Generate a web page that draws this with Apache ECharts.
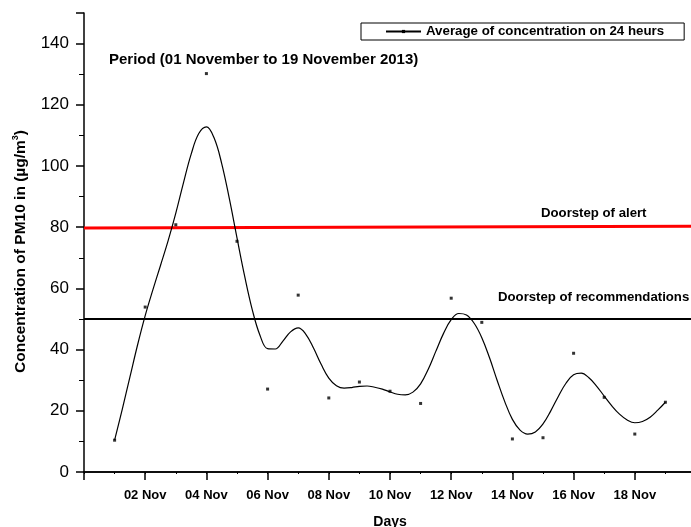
<!DOCTYPE html>
<html>
<head>
<meta charset="utf-8">
<script src="https://cdn.jsdelivr.net/npm/echarts@6/dist/echarts.min.js"></script>
<style>
  html, body { margin: 0; padding: 0; background: #fff; }
  #chart { width: 691px; height: 527px; }
</style>
</head>
<body>
<div id="chart"></div>
<script>
// Daily mean PM10 concentration, 1–19 November 2013 (µg/m³)
const days = [1, 2, 3, 4, 5, 6, 7, 8, 9, 10, 11, 12, 13, 14, 15, 16, 17, 18, 19];
const pm10 = [10.4, 53.9, 80.8, 130.2, 75.4, 27.1, 57.8, 24.2, 29.4, 26.4, 22.4, 56.8, 48.9, 10.8, 11.2, 38.8, 24.4, 12.4, 22.8];

// Smoothed trend curve, sampled every quarter day
const curveDays = [1, 1.25, 1.5, 1.75, 2, 2.25, 2.5, 2.75, 3, 3.25, 3.5, 3.75, 4, 4.25, 4.5, 4.75, 5, 5.25, 5.5, 5.75, 6, 6.25, 6.5, 6.75, 7, 7.25, 7.5, 7.75, 8, 8.25, 8.5, 8.75, 9, 9.25, 9.5, 9.75, 10, 10.25, 10.5, 10.75, 11, 11.25, 11.5, 11.75, 12, 12.25, 12.5, 12.75, 13, 13.25, 13.5, 13.75, 14, 14.25, 14.5, 14.75, 15, 15.25, 15.5, 15.75, 16, 16.25, 16.5, 16.75, 17, 17.25, 17.5, 17.75, 18, 18.25, 18.5, 18.75, 19];
const curveVals = [10.4, 20.5, 31.0, 41.5, 51.1, 59.5, 67.5, 75.6, 84.6, 94.5, 103.8, 110.6, 112.8, 109.2, 100.8, 89.3, 76.5, 64.0, 53.0, 44.7, 40.3, 40.2, 42.8, 45.8, 47.1, 45.0, 40.5, 35.2, 30.7, 28.2, 27.4, 27.6, 28.0, 28.1, 27.7, 27.1, 26.2, 25.4, 25.2, 26.1, 28.8, 33.6, 39.5, 45.3, 49.8, 51.8, 51.3, 48.6, 43.9, 37.4, 30.0, 23.0, 17.2, 13.7, 12.4, 13.1, 15.7, 19.9, 24.7, 29.0, 31.8, 32.3, 30.8, 28.1, 24.8, 21.6, 18.9, 17.0, 16.1, 16.5, 17.9, 20.2, 22.8];

// Threshold levels: [value at start, value at end]
const alertLevel = [79.7, 80.3];
const recommendationLevel = [50, 50];

// Axis tick labels
const xTickLabels = { 2: '02 Nov', 4: '04 Nov', 6: '06 Nov', 8: '08 Nov', 10: '10 Nov', 12: '12 Nov', 14: '14 Nov', 16: '16 Nov', 18: '18 Nov' };
const yTicks = [0, 20, 40, 60, 80, 100, 120, 140];

const FONT = '"Liberation Sans", Arial, sans-serif';
const chart = echarts.init(document.getElementById('chart'), null, { renderer: 'canvas' });

const xRange = [0, 20];

chart.setOption({
  animation: false,
  backgroundColor: '#fff',
  textStyle: { fontFamily: FONT, color: '#000' },
  grid: { left: 84, top: 13, right: -5, bottom: 55, containLabel: false, outerBoundsMode: 'none' },
  legend: {
    data: ['Average of concentration on 24 heurs'],
    left: 361, top: 23,
    padding: [2, 20, 2, 24],
    borderColor: '#000', borderWidth: 1, borderRadius: 0,
    itemWidth: 35, itemHeight: 4, itemGap: 4,
    textStyle: { fontFamily: FONT, fontWeight: 'bold', fontSize: 13.3, color: '#000' }
  },
  xAxis: [
    {
      type: 'value', min: xRange[0], max: xRange[1], interval: 2,
      name: 'Days', nameLocation: 'middle', nameGap: 43,
      nameTextStyle: { fontFamily: FONT, fontWeight: 'bold', fontSize: 14, color: '#000' },
      axisLine: { show: true, onZero: false, lineStyle: { color: '#000', width: 1.5 } },
      axisTick: { show: true, length: 8, lineStyle: { color: '#000', width: 1.5 } },
      minorTick: { show: true, splitNumber: 2, length: 2, lineStyle: { color: '#000', width: 1 } },
      splitLine: { show: false },
      axisLabel: {
        margin: 17, fontFamily: FONT, fontWeight: 'bold', fontSize: 13, color: '#000',
        formatter: v => xTickLabels[v] || ''
      }
    },
    {
      type: 'value', position: 'top', min: xRange[0], max: xRange[1], interval: 1,
      axisLine: { show: true, lineStyle: { color: '#000', width: 1.5 } },
      axisTick: { show: true, inside: true, length: 2, lineStyle: { color: '#000', width: 1 } },
      axisLabel: { show: false }, splitLine: { show: false }
    }
  ],
  yAxis: {
    type: 'value', min: 0, max: 150, interval: 20,
    name: 'Concentration of PM10 in (µg/m{sup|3})',
    nameLocation: 'middle', nameGap: 54, nameRotate: 90,
    nameTextStyle: {
      fontFamily: FONT, fontWeight: 'bold', fontSize: 15.5, color: '#000',
      padding: [0, 18, 0, 0],
      rich: { sup: { fontFamily: FONT, fontWeight: 'bold', fontSize: 9, color: '#000', padding: [0, 0, 10, 0] } }
    },
    axisLine: { show: true, onZero: false, lineStyle: { color: '#000', width: 1.5 } },
    axisTick: { show: true, length: 8, lineStyle: { color: '#000', width: 1.5 } },
    minorTick: { show: true, splitNumber: 2, length: 5, lineStyle: { color: '#000', width: 1 } },
    splitLine: { show: false },
    axisLabel: {
      margin: 15, fontFamily: FONT, fontSize: 17, color: '#000',
      showMaxLabel: false,
      formatter: v => (yTicks.indexOf(v) >= 0 ? String(v) : '')
    }
  },
  graphic: [
    { type: 'text', left: 109, top: 52,
      style: { text: 'Period (01 November to 19 November 2013)', font: 'bold 15px ' + FONT, fill: '#000' } },
    { type: 'text', left: 541, top: 207,
      style: { text: 'Doorstep of alert', font: 'bold 13.2px ' + FONT, fill: '#000' } },
    { type: 'text', left: 498, top: 291,
      style: { text: 'Doorstep of recommendations', font: 'bold 13.2px ' + FONT, fill: '#000' } }
  ],
  series: [
    {
      name: 'alert', type: 'line', silent: true, symbol: 'none',
      data: [[xRange[0], alertLevel[0]], [xRange[1], alertLevel[1]]],
      lineStyle: { color: '#ff0000', width: 3 }, z: 2
    },
    {
      name: 'recommendations', type: 'line', silent: true, symbol: 'none',
      data: [[xRange[0], recommendationLevel[0]], [xRange[1], recommendationLevel[1]]],
      lineStyle: { color: '#000', width: 2 }, z: 2
    },
    {
      name: 'Average of concentration on 24 heurs', type: 'line',
      data: curveDays.map((d, i) => [d, curveVals[i]]),
      smooth: 0.4, symbol: 'rect', symbolSize: 3, showSymbol: false,
      itemStyle: { color: '#000' },
      lineStyle: { color: '#000', width: 1.2 }, z: 3
    },
    {
      name: 'daily', type: 'scatter',
      data: days.map((d, i) => [d, pm10[i]]),
      symbol: 'rect', symbolSize: 3,
      itemStyle: { color: '#000' }, z: 4
    }
  ]
});
</script>
</body>
</html>
